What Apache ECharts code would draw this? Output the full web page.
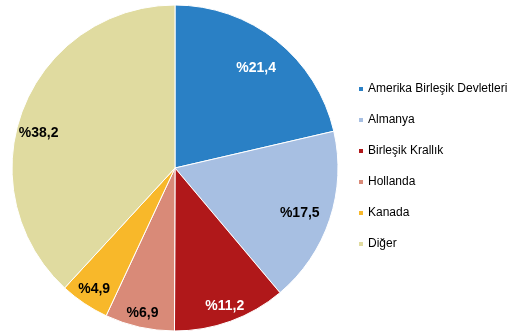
<!DOCTYPE html>
<html>
<head>
<meta charset="utf-8">
<script src="https://cdn.jsdelivr.net/npm/echarts@6/dist/echarts.min.js"></script>
<style>
html,body{margin:0;padding:0;background:#fff;}
#c{width:514px;height:336px;}
</style>
</head>
<body>
<div id="c"></div>
<script>
var categories = ['Amerika Birleşik Devletleri', 'Almanya', 'Birleşik Krallık', 'Hollanda', 'Kanada', 'Diğer'];
var values = [21.4, 17.5, 11.2, 6.9, 4.9, 38.2];
var labels = ['%21,4', '%17,5', '%11,2', '%6,9', '%4,9', '%38,2'];

// styling only
var colors = ['#2a80c5', '#a7bfe2', '#b0181a', '#d98a78', '#f8b82a', '#e0dba0'];
var labelColors = ['#ffffff', '#000000', '#ffffff', '#000000', '#000000', '#000000'];
var labelNudges = [[-6, 10], [-8, 1], [2, 7], [-2, 9], [-3, 5], [-6, 16]];

var chart = echarts.init(document.getElementById('c'), null, {renderer: 'canvas'});
var R = 163;
var center = [175, 168];
var baseData = categories.map(function (n, i) {
  return {name: n, value: values[i], itemStyle: {color: colors[i]}};
});
var labelData = categories.map(function (n, i) {
  return {name: n, value: values[i], label: {color: labelColors[i], formatter: labels[i], offset: labelNudges[i]}};
});
chart.setOption({
  animation: false,
  legend: {
    orient: 'vertical',
    left: 357,
    top: 83,
    padding: 0,
    icon: 'rect',
    itemWidth: 6,
    itemHeight: 6,
    itemGap: 19,
    textStyle: {fontFamily: 'Liberation Sans, Arial, sans-serif', fontSize: 12, color: '#000', padding: [0, 0, 0, -1]},
    data: categories
  },
  series: [
    {
      type: 'pie',
      center: center,
      radius: [0, R],
      startAngle: 90,
      clockwise: true,
      data: baseData,
      label: {show: false},
      labelLine: {show: false},
      itemStyle: {borderColor: '#ffffff', borderWidth: 1},
      emphasis: {disabled: true},
      silent: true
    },
    {
      type: 'pie',
      center: center,
      radius: [0.68 * R, R],
      startAngle: 90,
      clockwise: true,
      data: labelData,
      itemStyle: {color: 'rgba(0,0,0,0)'},
      label: {
        show: true,
        position: 'inside',
        fontFamily: 'Liberation Sans, Arial, sans-serif',
        fontSize: 14,
        fontWeight: 'bold'
      },
      labelLine: {show: false},
      emphasis: {disabled: true},
      silent: true,
      legendHoverLink: false
    }
  ]
});
</script>
</body>
</html>
